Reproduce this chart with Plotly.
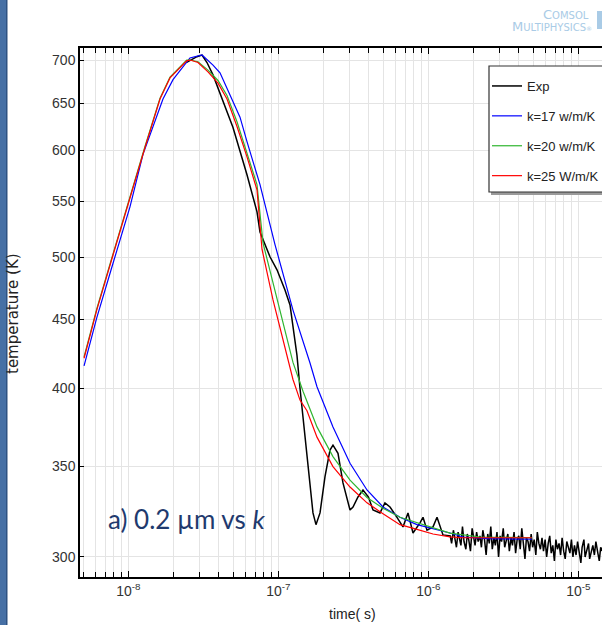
import plotly.graph_objects as go

# ---------------- data ----------------
# Simulations: time (s) and temperature (K)
k25_t = [5.07e-9, 6.16e-9, 7.91e-9, 1.026e-8, 1.292e-8, 1.627e-8, 1.897e-8, 2.45e-8, 2.577e-8,
         2.915e-8, 3.398e-8, 3.963e-8, 4.55e-8, 5.305e-8, 6.184e-8, 7.211e-8, 7.786e-8, 9.22e-8,
         1.075e-7, 1.253e-7, 1.395e-7, 1.553e-7, 1.811e-7, 2.315e-7, 3.007e-7, 3.902e-7,
         4.989e-7, 6.475e-7, 8.406e-7, 1.075e-6, 1.395e-6, 1.703e-6, 2.5e-6, 3.5e-6, 4.9e-6]
k25_T = [421, 457, 502, 554, 603, 655, 679, 699, 700,
         697, 686, 673, 655, 625, 593.5, 561, 507, 465,
         434, 406, 392, 385, 368, 350, 338, 329,
         323, 317, 314.5, 312, 310.5, 310, 310, 310, 310]

k20_t = [5.07e-9, 6.16e-9, 7.91e-9, 1.026e-8, 1.292e-8, 1.627e-8, 1.897e-8, 2.45e-8, 2.577e-8,
         2.915e-8, 3.398e-8, 3.963e-8, 4.55e-8, 5.305e-8, 6.184e-8, 7.211e-8, 7.907e-8, 9.22e-8,
         1.075e-7, 1.253e-7, 1.461e-7, 1.811e-7, 2.315e-7, 3.007e-7, 3.902e-7, 4.989e-7,
         6.475e-7, 8.406e-7, 1.395e-6, 2.211e-6, 3.5e-6, 4.9e-6]
k20_T = [422, 458, 503, 555, 604, 656, 680, 700, 700,
         698, 688, 676, 659, 630, 598, 566, 512.5, 479,
         447, 418, 398, 374.5, 356, 342, 332, 326,
         321, 318, 312.5, 310.4, 310, 310]

k17_t = [5.07e-9, 6.16e-9, 7.91e-9, 1.026e-8, 1.253e-8, 1.703e-8, 1.986e-8, 2.577e-8, 3.1e-8,
         3.67e-8, 4.087e-8, 4.764e-8, 5.555e-8, 6.184e-8, 7.551e-8, 9.506e-8, 1.253e-7,
         1.627e-7, 1.811e-7, 2.315e-7, 3.007e-7, 3.902e-7, 4.989e-7, 6.475e-7, 8.406e-7,
         1.395e-6, 1.703e-6, 2.5e-6, 3.5e-6, 4.9e-6]
k17_T = [415.5, 451, 495, 545, 596, 655, 677, 702.5, 706,
         694, 685, 660, 635, 609, 566, 511, 457,
         417.6, 401, 374.5, 352, 336.3, 326.7, 321, 317,
         312.5, 310.4, 309.5, 309.3, 309.3]

# Experiment: main transient
exp_t = [2.43e-8, 2.871e-8, 3.1e-8, 3.346e-8, 3.67e-8, 4.28e-8, 4.989e-8, 6.184e-8, 7.211e-8,
         7.551e-8, 8.406e-8, 8.803e-8, 9.802e-8, 1.108e-7, 1.197e-7, 1.253e-7, 1.332e-7,
         1.395e-7, 1.461e-7, 1.578e-7, 1.703e-7, 1.783e-7, 1.897e-7, 2.048e-7, 2.211e-7,
         2.315e-7, 2.5e-7, 2.699e-7, 3.007e-7, 3.148e-7, 3.398e-7, 3.67e-7, 3.99e-7, 4.279e-7,
         4.764e-7, 5.14e-7, 5.555e-7, 6.184e-7, 6.78e-7, 7.322e-7, 7.907e-7, 8.803e-7,
         9.22e-7, 9.802e-7, 1.075e-6, 1.143e-6, 1.253e-6]
exp_T = [697, 704, 706, 697, 682.5, 652, 624, 575.6, 540.4,
         522, 506.5, 500.5, 489.5, 473, 461, 444, 423,
         400, 381, 350, 323.4, 317, 323.4, 344, 360,
         363, 358, 340.4, 325, 326.7, 332.3, 336.3, 332.3, 325,
         323.4, 329, 326.7, 321, 315.8, 323.4, 312.5, 318,
         321, 314, 315.8, 321, 311.5]

# Experiment: noisy tail (time in microseconds)
tail_t_us = [1.40, 1.43, 1.47, 1.50, 1.54, 1.58, 1.61, 1.65, 1.69, 1.73,
             1.78, 1.82, 1.86, 1.91, 1.96, 2.00, 2.05, 2.10, 2.15, 2.21,
             2.26, 2.31, 2.37, 2.43, 2.49, 2.55, 2.61, 2.67, 2.74, 2.80,
             2.87, 2.94, 3.01, 3.08, 3.16, 3.23, 3.31, 3.39, 3.47, 3.56,
             3.64, 3.73, 3.82, 3.91, 4.01, 4.10, 4.20, 4.30, 4.41, 4.51,
             4.62, 4.73, 4.85, 4.96, 5.08, 5.21, 5.33, 5.46, 5.59, 5.73,
             5.86, 6.01, 6.15, 6.30, 6.45, 6.60, 6.76, 6.93, 7.09, 7.26,
             7.44, 7.62, 7.80, 7.99, 8.18, 8.38, 8.58, 8.79, 9.00, 9.21,
             9.43, 9.66, 9.89, 10.1, 10.4, 10.6, 10.9, 11.1, 11.4, 11.7,
             11.9, 12.2, 12.5, 12.8, 13.1, 13.5, 13.8, 14.1, 14.5]
tail_T = [311, 307, 314, 309, 305, 313, 310, 306, 316, 308,
          304, 312, 309, 303, 315, 310, 306, 313, 308, 311,
          305, 314, 309, 301, 312, 307, 316, 304, 310, 306,
          313, 300, 311, 308, 315, 305, 309, 312, 303, 310,
          306, 313, 302, 309, 311, 304, 315, 306, 299, 310,
          308, 303, 312, 305, 309, 301, 313, 307, 304, 310,
          303, 309, 300, 307, 311, 302, 306, 298, 309, 304,
          307, 301, 310, 303, 299, 308, 305, 302, 309, 300,
          306, 301, 308, 303, 297, 305, 309, 300, 304, 307,
          299, 303, 306, 301, 308, 302, 298, 305, 303]

y_ticks = [300, 350, 400, 450, 500, 550, 600, 650, 700]
x_decades = [1e-8, 1e-7, 1e-6, 1e-5]
x_ticktext = ["10<sup>-8</sup>", "10<sup>-7</sup>", "10<sup>-6</sup>", "10<sup>-5</sup>"]

legend_names = ["Exp", "k=17 w/m/K", "k=20 w/m/K", "k=25 W/m/K"]

# ---------------- figure ----------------
W, H = 602, 625
ML, MT, MB = 80, 48, 48
PW = W - ML
PH = H - MT - MB


def px(x):
    return (x - ML) / PW


def py(y):
    return (H - MB - y) / PH


exp_all_t = exp_t + [v * 1e-6 for v in tail_t_us]
exp_all_T = exp_T + tail_T

fig = go.Figure()
fig.add_trace(go.Scatter(x=exp_all_t, y=exp_all_T, mode="lines", name=legend_names[0],
                         legendgroup="g0", line=dict(color="black", width=1.5)))
fig.add_trace(go.Scatter(x=k17_t, y=k17_T, mode="lines", name=legend_names[1],
                         legendgroup="g1", line=dict(color="#0000ff", width=1.2)))
fig.add_trace(go.Scatter(x=k20_t, y=k20_T, mode="lines", name=legend_names[2],
                         legendgroup="g2", line=dict(color="#2fb52f", width=1.2)))
fig.add_trace(go.Scatter(x=k25_t, y=k25_T, mode="lines", name=legend_names[3],
                         legendgroup="g3", line=dict(color="#ff0000", width=1.2)))

minor_vals = [m * d for d in [1e-9, 1e-8, 1e-7, 1e-6, 1e-5] for m in range(2, 10)]

tickfont = dict(family="Liberation Sans, Arial, sans-serif", size=14, color="#333333")
grid = "#e4e4e4"

fig.update_layout(
    width=W, height=H,
    margin=dict(l=ML, r=0, t=MT, b=MB, autoexpand=False),
    paper_bgcolor="white", plot_bgcolor="white",
    showlegend=True,
    xaxis=dict(type="log", range=[-8.322, -4.842], tickmode="array", tickvals=x_decades,
               ticktext=x_ticktext, ticks="inside", ticklen=6, tickcolor="black", tickwidth=1,
               showline=True, linecolor="black", linewidth=1.5, mirror="allticks",
               showgrid=True, gridcolor=grid, gridwidth=1, zeroline=False,
               tickfont=tickfont,
               minor=dict(tickvals=minor_vals, ticks="inside", ticklen=5, tickcolor="black",
                          showgrid=True, gridcolor=grid, gridwidth=1)),
    yaxis=dict(type="log", range=[2.4623, 2.854], tickmode="array", tickvals=y_ticks,
               ticktext=[str(v) for v in y_ticks], ticks="inside", ticklen=4,
               tickcolor="black", showline=True, linecolor="black", linewidth=1.5,
               mirror=False, showgrid=True, gridcolor=grid, gridwidth=1, zeroline=False,
               tickfont=tickfont),
    legend=dict(x=px(487), y=py(71), xanchor="left", yanchor="top",
                bgcolor="rgba(0,0,0,0)", borderwidth=0, tracegroupgap=10,
                font=dict(family="Liberation Sans, Arial, sans-serif", size=13, color="#222222")),
)

shapes = [
    # legend box shadow and box
    dict(type="rect", xref="paper", yref="paper", x0=px(491), x1=px(640), y0=py(195), y1=py(68),
         fillcolor="#9a9a9a", line=dict(width=0), layer="above"),
    dict(type="rect", xref="paper", yref="paper", x0=px(489), x1=px(638), y0=py(192), y1=py(66),
         fillcolor="white", line=dict(color="#333333", width=1.2), layer="above"),
    # slide bar on the left
    dict(type="rect", xref="paper", yref="paper", x0=px(0), x1=px(7), y0=py(625), y1=py(0),
         fillcolor="#4670a5", line=dict(width=0), layer="above"),
    dict(type="rect", xref="paper", yref="paper", x0=px(6), x1=px(7.5), y0=py(625), y1=py(0),
         fillcolor="#2e5282", line=dict(width=0), layer="above"),
    # logo mark (cut at the edge)
    dict(type="rect", xref="paper", yref="paper", x0=px(597), x1=px(604), y0=py(29), y1=py(11),
         fillcolor="#a9cbe6", line=dict(width=0), layer="above"),
]
fig.update_layout(shapes=shapes)

annotations = [
    dict(text="a) 0.2 µm vs <i>k</i>", xref="paper", yref="paper", x=px(106), y=py(519),
         xanchor="left", yanchor="middle", showarrow=False,
         font=dict(family="Lato, sans-serif", size=26, color="#1f3a6e")),
    dict(text="time( s)", xref="paper", yref="paper", x=px(352), y=py(614),
         xanchor="center", yanchor="middle", showarrow=False,
         font=dict(family="Liberation Sans, Arial, sans-serif", size=14, color="#222222")),
    dict(text="temperature (K)", xref="paper", yref="paper", x=px(13), y=py(314),
         xanchor="center", yanchor="middle", showarrow=False, textangle=-90,
         font=dict(family="DejaVu Sans, sans-serif", size=15, color="#222222")),
    dict(text="C<span style='font-size:10px'>OMSOL</span>", xref="paper", yref="paper",
         x=px(591), y=py(14), xanchor="right", yanchor="middle", showarrow=False,
         font=dict(family="DejaVu Sans, sans-serif", size=13, color="#a9cbe6")),
    dict(text="M<span style='font-size:10px'>ULTIPHYSICS</span><span style='font-size:6px'>®</span>",
         xref="paper", yref="paper",
         x=px(594), y=py(26), xanchor="right", yanchor="middle", showarrow=False,
         font=dict(family="DejaVu Sans, sans-serif", size=13, color="#a9cbe6")),
]
fig.update_layout(annotations=annotations)

fig.write_html("out.html")
